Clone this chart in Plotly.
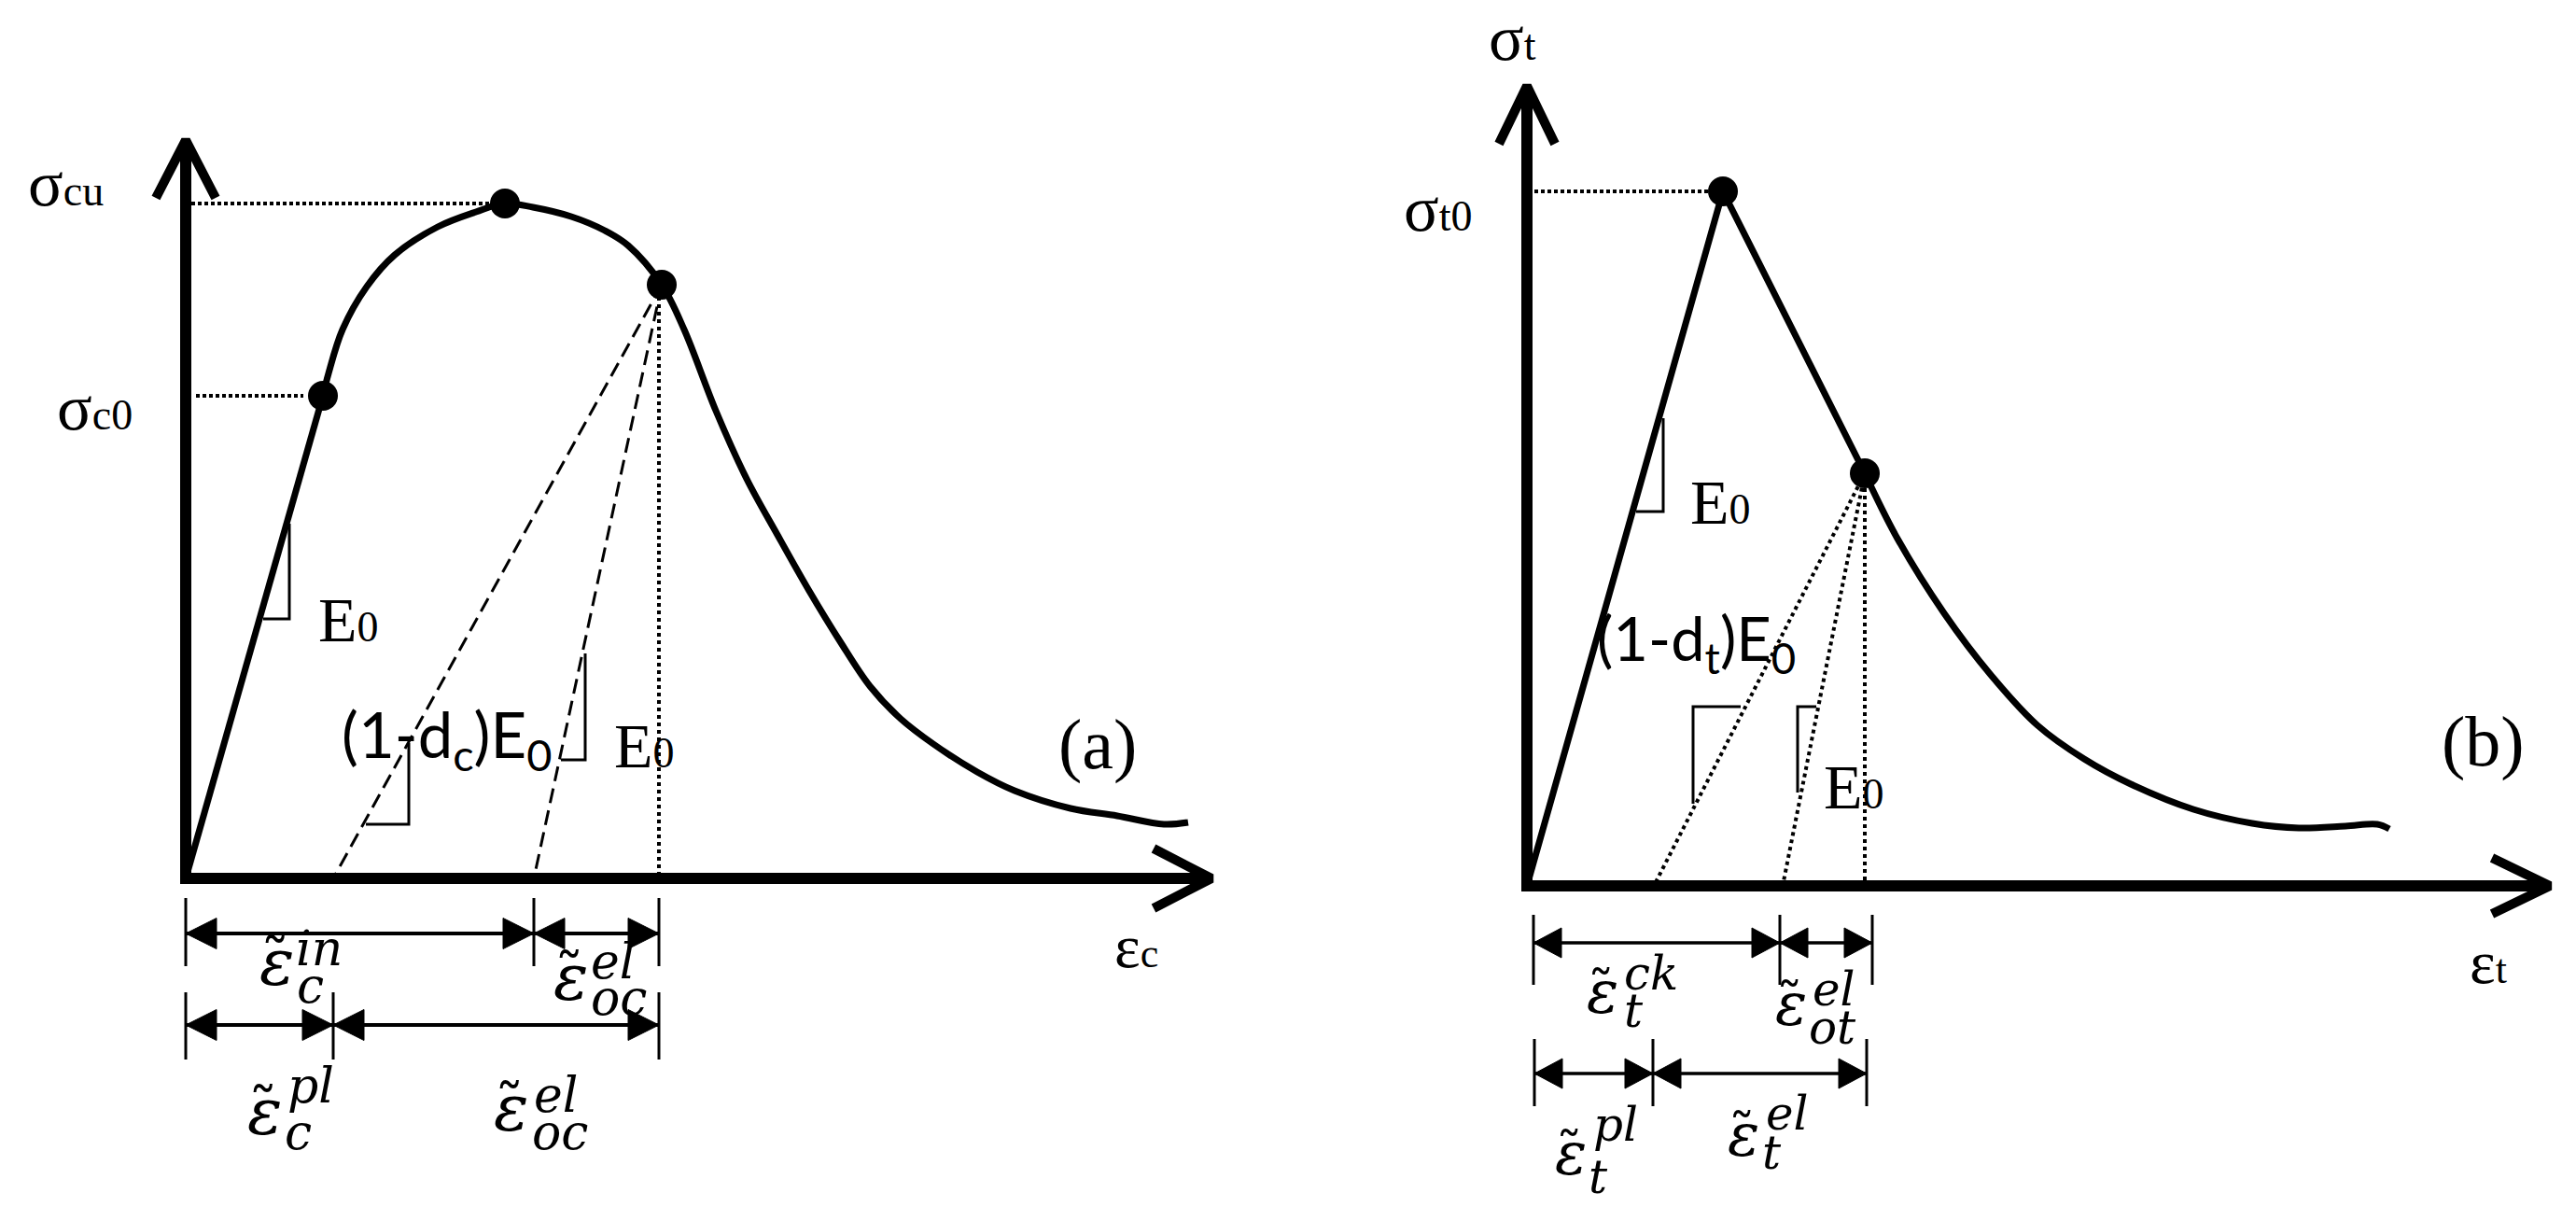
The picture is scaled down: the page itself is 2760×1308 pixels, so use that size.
import plotly.graph_objects as go

# ---------------- (a) compression ----------------
# linear elastic branch up to sigma_c0
comp_rise_strain = [0.0, 1.47]
comp_rise_stress = [0.0, 5.17]
# hardening + softening branch
comp_curve_strain = [1.47, 1.53, 1.68, 1.94, 2.24, 2.70, 3.11, 3.42, 3.72, 4.13, 4.49, 4.74, 5.10,
                     5.34, 5.68, 6.01, 6.34, 6.68, 7.01, 7.33, 7.66, 8.01, 8.48, 8.88, 9.48, 9.98,
                     10.48, 10.74]
comp_curve_stress = [5.17, 5.41, 5.88, 6.34, 6.68, 6.98, 7.14, 7.23, 7.19, 7.09, 6.94, 6.78, 6.36,
                     5.88, 5.01, 4.28, 3.68, 3.08, 2.54, 2.06, 1.71, 1.44, 1.14, 0.94, 0.75, 0.67,
                     0.58, 0.60]
comp_dots_strain = [1.47, 3.42, 5.10]      # sigma_c0, sigma_cu, unloading point
comp_dots_stress = [5.17, 7.23, 6.36]
comp_unload_strain = [1.58, 3.73]          # (1-dc)E0 and E0 unloading intercepts
comp_total_strain = 5.07
comp_sigma_c0 = 5.17
comp_sigma_cu = 7.23
comp_row1_ticks = [0.0, 3.73, 5.07]        # in | el
comp_row2_ticks = [0.0, 1.58, 5.07]        # pl | el
comp_slope_tri = [
    ([0.83, 1.11, 1.11], [2.78, 2.78, 3.80]),
    ([1.93, 2.39, 2.39], [0.58, 0.58, 1.45]),
    ([4.02, 4.28, 4.28], [1.27, 1.27, 2.41]),
]
comp_x_end, comp_y_end = 10.99, 7.91

# ---------------- (b) tension ----------------
ten_rise_strain = [0.0, 2.10, 3.62]
ten_rise_stress = [0.0, 7.44, 4.42]
ten_curve_strain = [3.62, 3.97, 4.47, 4.97, 5.47, 5.97, 6.47, 7.14, 7.77, 8.27, 8.77, 9.11, 9.24]
ten_curve_stress = [4.42, 3.72, 2.92, 2.26, 1.72, 1.36, 1.09, 0.82, 0.67, 0.62, 0.64, 0.66, 0.61]
ten_dots_strain = [2.10, 3.62]
ten_dots_stress = [7.44, 4.42]
ten_unload_strain = [1.36, 2.74, 3.62]
ten_sigma_t0 = 7.44
ten_row1_ticks = [0.07, 2.71, 3.70]        # ck | el
ten_row2_ticks = [0.08, 1.35, 3.64]        # pl | el
ten_slope_tri = [
    ([1.17, 1.46, 1.46], [4.01, 4.01, 5.01]),
    ([1.78, 1.78, 2.29], [0.88, 1.92, 1.92]),
    ([2.90, 2.90, 3.10], [1.00, 1.92, 1.92]),
]
ten_x_end, ten_y_end = 10.96, 8.57

SERIF = "Liberation Serif"
MATH = "DejaVu Serif"
SANS = "Lato"
K = "black"

fig = go.Figure()


def line(x, y, ax, width, dash="solid", shape="linear"):
    xa, ya = ("x", "y") if ax == 1 else ("x2", "y2")
    fig.add_trace(go.Scatter(x=x, y=y, mode="lines", xaxis=xa, yaxis=ya,
                             line=dict(color=K, width=width, dash=dash, shape=shape),
                             hoverinfo="skip"))


def axes_arrows(ax, x_end, y_end, wing_len, wing_half):
    line([0, 0], [-0.06, y_end - 0.08], ax, 12)
    line([-0.06, x_end - 0.08], [0, 0], ax, 12)
    line([-wing_half, 0, wing_half], [y_end - wing_len, y_end, y_end - wing_len], ax, 10)
    line([x_end - wing_len, x_end, x_end - wing_len], [wing_half, 0, -wing_half], ax, 10)


def dim_row(ax, ticks, y, t_top, t_bot, head_len, head_half, lw):
    xa, ya = ("x", "y") if ax == 1 else ("x2", "y2")
    tx, ty = [], []
    for t in ticks:
        tx += [t, t, None]
        ty += [t_top, t_bot, None]
    line(tx, ty, ax, 3)
    sx, sy, hx, hy = [], [], [], []
    for a, b in zip(ticks[:-1], ticks[1:]):
        sx += [a, b, None]
        sy += [y, y, None]
        hx += [a, a + head_len, a + head_len, a, None, b, b - head_len, b - head_len, b, None]
        hy += [y, y + head_half, y - head_half, y, None, y, y + head_half, y - head_half, y, None]
    line(sx, sy, ax, lw)
    fig.add_trace(go.Scatter(x=hx, y=hy, mode="lines", fill="toself", fillcolor=K,
                             line=dict(color=K, width=1), xaxis=xa, yaxis=ya, hoverinfo="skip"))


def dots(ax, x, y):
    xa, ya = ("x", "y") if ax == 1 else ("x2", "y2")
    fig.add_trace(go.Scatter(x=x, y=y, mode="markers", xaxis=xa, yaxis=ya,
                             marker=dict(color=K, size=32), hoverinfo="skip"))


def text(ax, s, x, y, size, family=SERIF, xanchor="left"):
    xr, yr = ("x", "y") if ax == 1 else ("x2", "y2")
    fig.add_annotation(text=s, x=x, y=y, xref=xr, yref=yr, showarrow=False,
                       xanchor=xanchor, yanchor="middle",
                       font=dict(size=size, family=family, color=K))


def sym(big, small, bs, ss):
    return (f"<span style='font-size:{bs}px'>{big}</span>"
            f"<span style='font-size:{ss}px'>{small}</span>")


def eps_label(ax, x, y, sup, sub, sup_xy, sub_xy, size, ssize):
    text(ax, "<i>ε</i>", x, y + 0.03, size, MATH, xanchor="center")
    text(ax, "˜", x - 0.02, y + 0.05, int(size * 0.9), MATH, xanchor="center")
    text(ax, f"<i>{sup}</i>", sup_xy[0] + 0.03, sup_xy[1] + 0.01, ssize, MATH)
    text(ax, f"<i>{sub}</i>", sub_xy[0] + 0.03, sub_xy[1] + 0.01, ssize, MATH)


# ---------- panel (a) ----------
line([0.06, comp_dots_strain[1] - 0.16], [comp_sigma_cu] * 2, 1, 4, "4px,3px")
line([0.11, comp_dots_strain[0] - 0.21], [comp_sigma_c0] * 2, 1, 4, "4px,3px")
for e in comp_unload_strain:
    line([comp_dots_strain[2], e], [comp_dots_stress[2], 0], 1, 3, "16px,8px")
line([comp_total_strain] * 2, [comp_dots_stress[2] - 0.05, 0], 1, 4, "4px,4px")
for tx, ty in comp_slope_tri:
    line(tx, ty, 1, 3)
line(comp_rise_strain, comp_rise_stress, 1, 7)
line(comp_curve_strain, comp_curve_stress, 1, 7, shape="spline")
axes_arrows(1, comp_x_end, comp_y_end, 0.62, 0.32)
dots(1, comp_dots_strain, comp_dots_stress)
dim_row(1, comp_row1_ticks, -0.59, -0.21, -0.94, 0.33, 0.165, 4)
dim_row(1, comp_row2_ticks, -1.57, -1.22, -1.94, 0.33, 0.165, 4)

text(1, sym("σ", "cu", 70, 46), -1.71, 7.45, 70)
text(1, sym("σ", "c0", 70, 46), -1.40, 5.05, 70)
text(1, sym("E", "0", 68, 46), 1.40, 2.77, 68)
text(1, "(1-d<sub>c</sub>)E<sub>0</sub>", 1.65, 1.50, 67, SANS)
text(1, sym("E", "0", 68, 46), 4.57, 1.42, 68)
text(1, "(a)", 9.77, 1.44, 76, xanchor="center")
text(1, sym("ε", "c", 66, 44), 9.93, -0.72, 66)

eps_label(1, 0.98, -0.93, "in", "c", (1.13, -0.76), (1.14, -1.16), 70, 52)
eps_label(1, 4.13, -1.09, "el", "oc", (4.29, -0.90), (4.29, -1.29), 70, 52)
eps_label(1, 0.85, -2.53, "pl", "c", (1.04, -2.23), (1.01, -2.73), 70, 52)
eps_label(1, 3.49, -2.49, "el", "oc", (3.68, -2.33), (3.66, -2.73), 70, 52)

# ---------- panel (b) ----------
line([0.08, ten_dots_strain[0] - 0.16], [ten_sigma_t0] * 2, 2, 4, "4px,3px")
for e in ten_unload_strain:
    line([ten_dots_strain[1], e], [ten_dots_stress[1], 0], 2, 4, "4px,4px")
for tx, ty in ten_slope_tri:
    line(tx, ty, 2, 3)
line(ten_rise_strain, ten_rise_stress, 2, 7)
line(ten_curve_strain, ten_curve_stress, 2, 7, shape="spline")
axes_arrows(2, ten_x_end, ten_y_end, 0.62, 0.30)
dots(2, ten_dots_strain, ten_dots_stress)
dim_row(2, ten_row1_ticks, -0.61, -0.31, -1.06, 0.30, 0.16, 3.5)
dim_row(2, ten_row2_ticks, -2.01, -1.64, -2.36, 0.30, 0.16, 3.5)

text(2, sym("σ", "t", 70, 46), -0.43, 9.09, 70)
text(2, sym("σ", "t0", 70, 46), -1.34, 7.26, 70)
text(2, sym("E", "0", 68, 46), 1.73, 4.11, 68)
text(2, "(1-d<sub>t</sub>)E<sub>0</sub>", 0.73, 2.61, 65, SANS)
text(2, sym("E", "0", 68, 46), 3.16, 1.06, 68)
text(2, "(b)", 10.24, 1.55, 76, xanchor="center")
text(2, sym("ε", "t", 66, 44), 10.08, -0.81, 66)

eps_label(2, 0.81, -1.17, "ck", "t", (0.99, -0.95), (0.99, -1.35), 64, 50)
eps_label(2, 2.83, -1.30, "el", "ot", (3.01, -1.12), (2.97, -1.53), 64, 50)
eps_label(2, 0.47, -2.90, "pl", "t", (0.66, -2.57), (0.61, -3.13), 64, 50)
eps_label(2, 2.32, -2.70, "el", "t", (2.51, -2.45), (2.47, -2.87), 64, 50)

fig.update_layout(
    width=2760, height=1308,
    margin=dict(l=0, r=0, t=0, b=0),
    paper_bgcolor="white", plot_bgcolor="white",
    showlegend=False, hovermode=False,
    xaxis=dict(domain=[0, 0.5], range=[-1.99, 11.81], visible=False),
    yaxis=dict(domain=[0, 1], range=[-3.67, 9.41], visible=False),
    xaxis2=dict(domain=[0.5, 1], range=[-2.56, 11.24], visible=False, anchor="y2"),
    yaxis2=dict(domain=[0, 1], range=[-3.59, 9.49], visible=False, anchor="x2"),
)

fig.write_html("out.html", config={"displayModeBar": False},
               post_script="document.body.style.margin='0';")
